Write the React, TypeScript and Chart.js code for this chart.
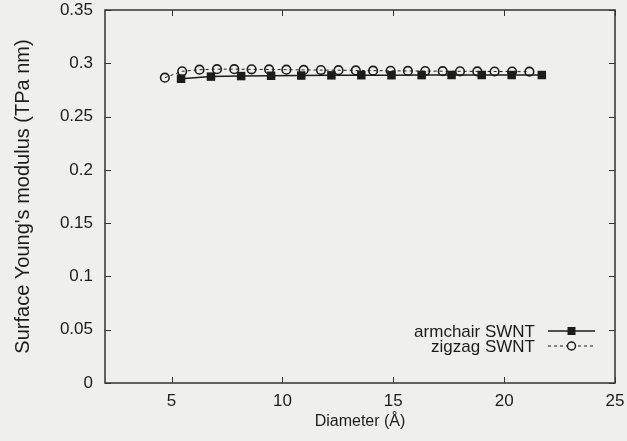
import React, { useEffect, useRef } from "react";
import { Chart, registerables } from "chart.js";

Chart.register(...registerables);

// Tube diameters (Å) and surface Young's modulus (TPa nm)
const armchairDiameter = [5.43, 6.78, 8.14, 9.49, 10.85, 12.21, 13.56, 14.92, 16.28, 17.63, 18.99, 20.34, 21.7];
const armchairModulus = [0.2855, 0.2875, 0.288, 0.2883, 0.2885, 0.2887, 0.2888, 0.2888, 0.2889, 0.289, 0.289, 0.289, 0.289];

const zigzagDiameter = [
  4.7, 5.48, 6.26, 7.05, 7.83, 8.61, 9.4, 10.18, 10.96, 11.74, 12.53,
  13.31, 14.09, 14.88, 15.66, 16.44, 17.23, 18.01, 18.79, 19.57, 20.36, 21.14,
];
const zigzagModulus = [
  0.2865, 0.2925, 0.294, 0.2945, 0.2945, 0.2943, 0.2942, 0.294, 0.2938, 0.2936, 0.2935,
  0.2933, 0.2931, 0.293, 0.2928, 0.2927, 0.2926, 0.2925, 0.2924, 0.2923, 0.2922, 0.2921,
];

const xTicks = [5, 10, 15, 20, 25];
const yTicks = [0, 0.05, 0.1, 0.15, 0.2, 0.25, 0.3, 0.35];
const yTickLabels = ["0", "0.05", "0.1", "0.15", "0.2", "0.25", "0.3", "0.35"];

const seriesNames = ["armchair SWNT", "zigzag SWNT"];

const BG = "#efefed";
const INK = "#1c1c1c";
const FONT = "'Liberation Sans', Arial, sans-serif";

// Frame with inward ticks on all four sides
const framePlugin = {
  id: "frame",
  afterDatasetsDraw(chart: any) {
    const { ctx, chartArea: a, scales } = chart;
    const xs = scales.x;
    const ys = scales.y;
    ctx.save();
    ctx.strokeStyle = "#333";
    ctx.lineWidth = 1.5;
    ctx.strokeRect(a.left, a.top, a.right - a.left, a.bottom - a.top);
    ctx.lineWidth = 1;
    const len = 6;
    ctx.beginPath();
    xTicks.forEach((v) => {
      const px = Math.round(xs.getPixelForValue(v)) + 0.5;
      ctx.moveTo(px, a.bottom);
      ctx.lineTo(px, a.bottom - len);
      ctx.moveTo(px, a.top);
      ctx.lineTo(px, a.top + len);
    });
    yTicks.forEach((v) => {
      const py = Math.round(ys.getPixelForValue(v)) + 0.5;
      ctx.moveTo(a.left, py);
      ctx.lineTo(a.left + len, py);
      ctx.moveTo(a.right, py);
      ctx.lineTo(a.right - len, py);
    });
    ctx.stroke();
    ctx.restore();
  },
};

// Key in the lower right: label text followed by a line sample
const keyPlugin = {
  id: "key",
  afterDraw(chart: any) {
    const { ctx, chartArea: a } = chart;
    const textRight = a.right - 80;
    const s0 = a.right - 67;
    const s1 = a.right - 20;
    const rowY = [a.bottom - 52, a.bottom - 37];
    ctx.save();
    ctx.font = `17px ${FONT}`;
    ctx.fillStyle = INK;
    ctx.textAlign = "right";
    ctx.textBaseline = "middle";
    seriesNames.forEach((name, i) => {
      const y = rowY[i];
      ctx.fillText(name, textRight, y + 1);
      ctx.strokeStyle = INK;
      ctx.lineWidth = i === 0 ? 1.5 : 1;
      ctx.setLineDash(i === 0 ? [] : [3, 3]);
      ctx.beginPath();
      ctx.moveTo(s0, y);
      ctx.lineTo(s1, y);
      ctx.stroke();
      ctx.setLineDash([]);
      const cx = (s0 + s1) / 2;
      if (i === 0) {
        ctx.fillRect(cx - 4, y - 4, 8, 8);
      } else {
        ctx.fillStyle = BG;
        ctx.beginPath();
        ctx.arc(cx, y, 4, 0, Math.PI * 2);
        ctx.fill();
        ctx.lineWidth = 1.5;
        ctx.stroke();
        ctx.fillStyle = INK;
      }
    });
    ctx.restore();
  },
};

export default function App() {
  const ref = useRef<HTMLCanvasElement>(null);

  useEffect(() => {
    const canvas = ref.current;
    if (!canvas) return;
    const chart = new Chart(canvas, {
      type: "scatter",
      data: {
        datasets: [
          {
            label: seriesNames[0],
            data: armchairDiameter.map((x, i) => ({ x, y: armchairModulus[i] })),
            showLine: true,
            borderColor: INK,
            borderWidth: 1.5,
            pointStyle: "rect",
            pointRadius: 6,
            pointBackgroundColor: INK,
            pointBorderColor: INK,
            pointBorderWidth: 0,
          },
          {
            label: seriesNames[1],
            data: zigzagDiameter.map((x, i) => ({ x, y: zigzagModulus[i] })),
            showLine: true,
            borderColor: INK,
            borderWidth: 1,
            borderDash: [3, 3],
            pointStyle: "circle",
            pointRadius: 4.3,
            pointBackgroundColor: "rgba(0,0,0,0)",
            pointBorderColor: INK,
            pointBorderWidth: 1.6,
          },
        ],
      },
      options: {
        responsive: false,
        animation: false,
        layout: { padding: { top: 10, right: 12, left: 0, bottom: 0 } },
        plugins: {
          legend: { display: false },
          tooltip: { enabled: false },
        },
        scales: {
          x: {
            type: "linear",
            min: 2,
            max: 25,
            grid: { display: false, drawTicks: false },
            border: { display: false },
            afterBuildTicks: (s: any) => {
              s.ticks = xTicks.map((value) => ({ value }));
            },
            afterFit: (s: any) => {
              s.height = 58;
              s.paddingLeft = 0;
              s.paddingRight = 0;
            },
            ticks: {
              padding: 8,
              color: INK,
              font: { family: FONT, size: 17 },
              callback: (v: any) => String(v),
            },
            title: {
              display: true,
              text: "Diameter (Å)",
              color: INK,
              font: { family: FONT, size: 16 },
              padding: { top: 0, bottom: 10 },
            },
          },
          y: {
            type: "linear",
            min: 0,
            max: 0.35,
            grid: { display: false, drawTicks: false },
            border: { display: false },
            afterBuildTicks: (s: any) => {
              s.ticks = yTicks.map((value) => ({ value }));
            },
            afterFit: (s: any) => {
              s.width = 105;
              s.paddingTop = 0;
              s.paddingBottom = 0;
            },
            ticks: {
              padding: 12,
              color: INK,
              font: { family: FONT, size: 17 },
              callback: (v: any) => {
                const i = yTicks.findIndex((t) => Math.abs(t - v) < 1e-9);
                return i >= 0 ? yTickLabels[i] : "";
              },
            },
            title: {
              display: true,
              text: "Surface Young's modulus (TPa nm)",
              color: INK,
              font: { family: FONT, size: 20 },
              padding: { top: 11, bottom: 0 },
            },
          },
        },
      },
      plugins: [framePlugin, keyPlugin],
    });
    return () => chart.destroy();
  }, []);

  return (
    <div
      style={{
        position: "fixed",
        left: 0,
        top: 0,
        width: 627,
        height: 441,
        background: BG,
      }}
    >
      <canvas ref={ref} width={627} height={441} style={{ display: "block" }} />
    </div>
  );
}
